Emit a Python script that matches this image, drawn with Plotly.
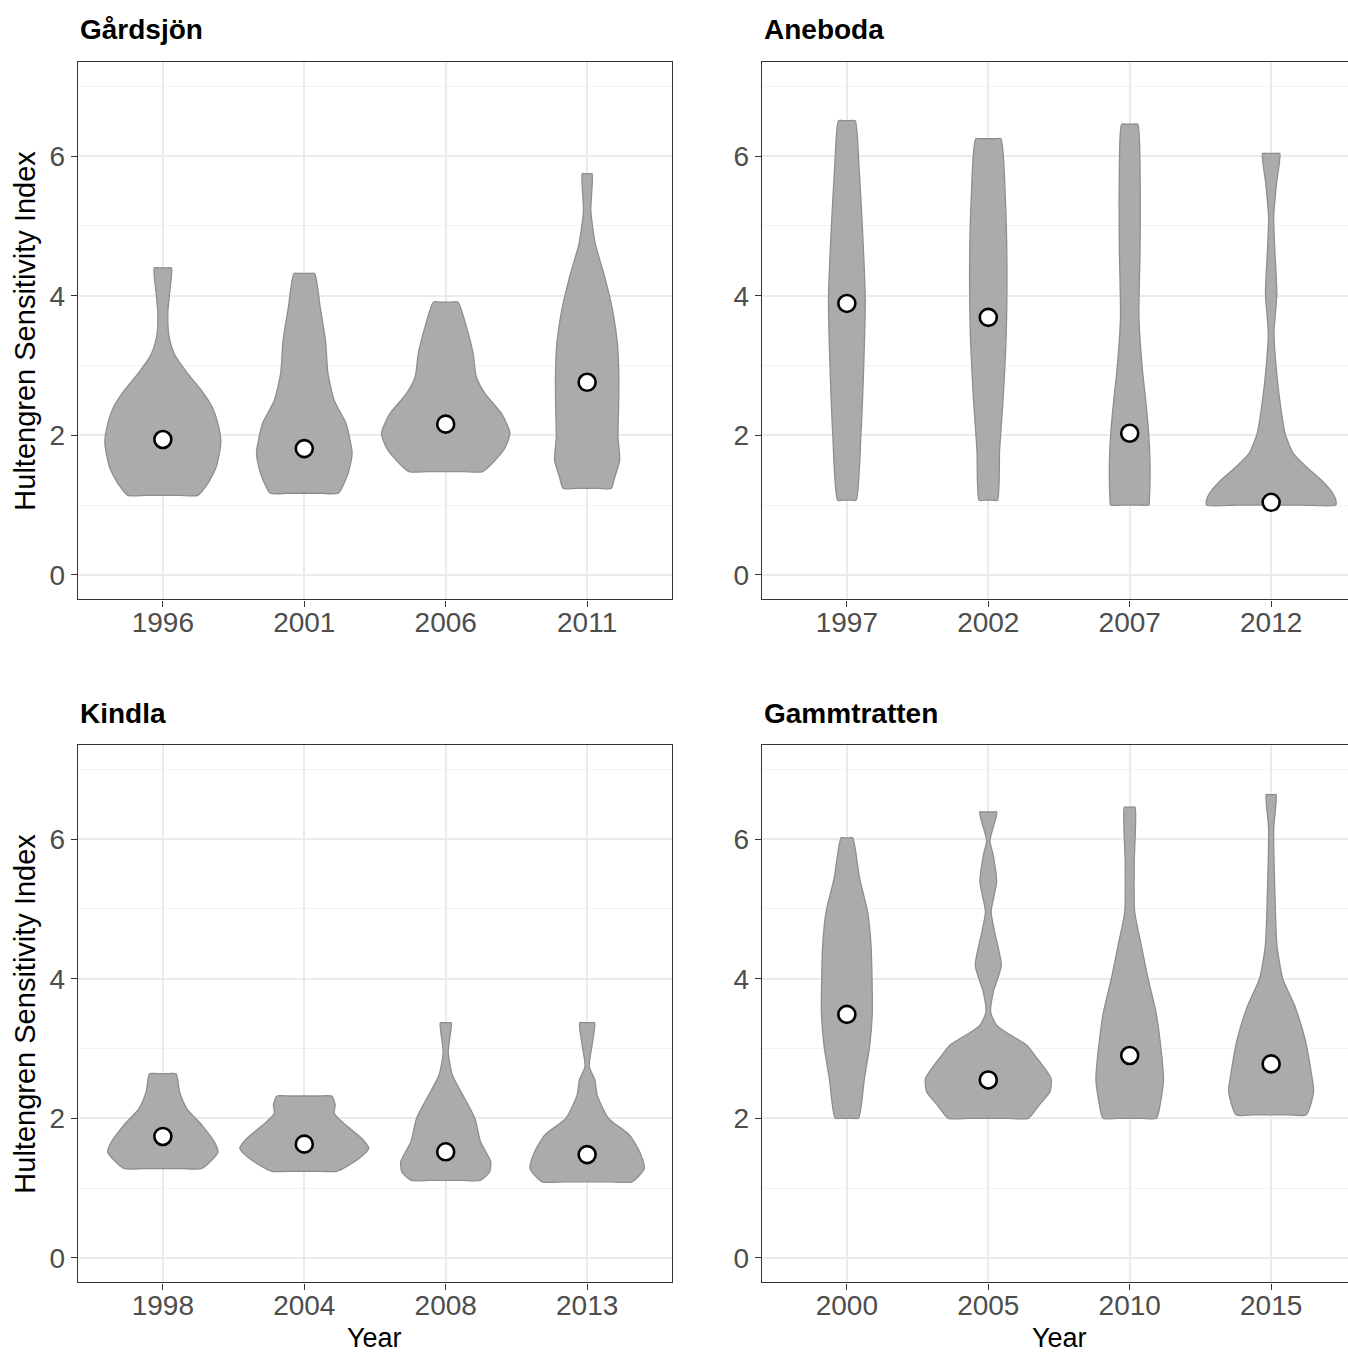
import plotly.graph_objects as go

# ---------------- data ----------------
site_names = ["Gårdsjön", "Aneboda", "Kindla", "Gammtratten"]

gardsjon_years = ["1996", "2001", "2006", "2011"]
aneboda_years = ["1997", "2002", "2007", "2012"]
kindla_years = ["1998", "2004", "2008", "2013"]
gammtratten_years = ["2000", "2005", "2010", "2015"]

# mean Hultengren Sensitivity Index per year
gardsjon_means = [1.94, 1.81, 2.16, 2.76]
aneboda_means = [3.89, 3.69, 2.03, 1.04]
kindla_means = [1.74, 1.63, 1.52, 1.48]
gammtratten_means = [3.49, 2.55, 2.90, 2.78]

# violin density profiles: index values (y) and half-widths (in category units)
g1996_y = [1.14, 1.31, 1.55, 1.89, 2.12, 2.40, 2.65, 2.90, 3.15, 3.40, 3.75, 4.08, 4.40]
g1996_w = [0.247, 0.318, 0.378, 0.41, 0.395, 0.35, 0.27, 0.17, 0.085, 0.045, 0.035, 0.05, 0.061]
g2001_y = [1.17, 1.46, 1.74, 2.17, 2.50, 2.89, 3.36, 3.84, 4.32]
g2001_w = [0.24, 0.31, 0.338, 0.295, 0.212, 0.167, 0.15, 0.112, 0.073]
g2006_y = [1.48, 1.79, 2.03, 2.31, 2.60, 2.84, 3.17, 3.55, 3.91]
g2006_w = [0.26, 0.41, 0.454, 0.395, 0.277, 0.216, 0.194, 0.147, 0.086]
g2011_y = [1.24, 1.40, 1.64, 1.98, 2.36, 2.84, 3.32, 3.79, 4.27, 4.75, 5.22, 5.75]
g2011_w = [0.17, 0.195, 0.23, 0.218, 0.222, 0.224, 0.214, 0.18, 0.124, 0.057, 0.026, 0.035]

a1997_y = [1.07, 2.03, 2.98, 3.94, 4.89, 5.85, 6.51]
a1997_w = [0.065, 0.10, 0.119, 0.13, 0.112, 0.086, 0.059]
a2002_y = [1.07, 1.79, 2.50, 3.46, 4.41, 5.37, 6.25]
a2002_w = [0.065, 0.08, 0.104, 0.127, 0.132, 0.121, 0.088]
a2007_y = [1.0, 1.07, 1.55, 2.03, 2.50, 2.98, 3.70, 4.65, 5.61, 6.46]
a2007_w = [0.136, 0.139, 0.144, 0.134, 0.113, 0.088, 0.065, 0.073, 0.074, 0.057]
a2012_y = [1.0, 1.07, 1.17, 1.36, 1.55, 1.74, 2.03, 2.50, 2.98, 3.46, 4.03, 4.65, 5.13, 5.61, 6.04]
a2012_w = [0.457, 0.457, 0.436, 0.354, 0.248, 0.156, 0.098, 0.061, 0.035, 0.02, 0.04, 0.026, 0.018, 0.038, 0.061]

k1998_y = [1.28, 1.38, 1.52, 1.66, 1.90, 2.14, 2.38, 2.64]
k1998_w = [0.273, 0.336, 0.39, 0.365, 0.277, 0.169, 0.118, 0.094]
k2004_y = [1.24, 1.42, 1.57, 1.71, 1.90, 2.07, 2.19, 2.32]
k2004_w = [0.23, 0.385, 0.456, 0.407, 0.295, 0.212, 0.218, 0.194]
k2008_y = [1.11, 1.23, 1.38, 1.66, 2.00, 2.28, 2.62, 2.95, 3.37]
k2008_w = [0.242, 0.31, 0.318, 0.247, 0.206, 0.135, 0.047, 0.018, 0.039]
k2013_y = [1.09, 1.28, 1.52, 1.76, 2.00, 2.33, 2.55, 2.74, 3.05, 3.37]
k2013_w = [0.318, 0.404, 0.371, 0.30, 0.151, 0.071, 0.055, 0.015, 0.035, 0.053]

m2000_y = [2.00, 2.57, 3.05, 3.52, 4.00, 4.48, 4.96, 5.43, 6.02]
m2000_w = [0.082, 0.124, 0.162, 0.18, 0.178, 0.171, 0.147, 0.091, 0.041]
m2005_y = [2.00, 2.19, 2.38, 2.57, 2.90, 3.05, 3.24, 3.33, 3.52, 3.81, 4.19, 4.67, 4.96, 5.39, 5.77, 5.98, 6.39]
m2005_w = [0.283, 0.36, 0.436, 0.444, 0.33, 0.27, 0.12, 0.06, 0.017, 0.035, 0.092, 0.045, 0.02, 0.059, 0.035, 0.012, 0.061]
m2010_y = [2.00, 2.28, 2.57, 3.05, 3.52, 4.00, 4.48, 4.96, 5.67, 6.46]
m2010_w = [0.189, 0.222, 0.239, 0.218, 0.186, 0.13, 0.082, 0.035, 0.032, 0.038]
m2015_y = [2.05, 2.38, 2.66, 3.14, 3.62, 4.00, 4.48, 5.19, 6.15, 6.64]
m2015_w = [0.248, 0.30, 0.283, 0.239, 0.165, 0.082, 0.041, 0.027, 0.018, 0.035]

y_tick_vals = [0, 2, 4, 6]
y_minor_vals = [1, 3, 5, 7]

# ---------------- figure ----------------
W, H = 1348, 1354
FONT = "Liberation Sans, Arial, Helvetica, sans-serif"
FILL = "#ABABAB"
EDGE = "#8E8E8E"

panels = [
    (site_names[0], gardsjon_years, gardsjon_means,
     [(g1996_y, g1996_w), (g2001_y, g2001_w), (g2006_y, g2006_w), (g2011_y, g2011_w)]),
    (site_names[1], aneboda_years, aneboda_means,
     [(a1997_y, a1997_w), (a2002_y, a2002_w), (a2007_y, a2007_w), (a2012_y, a2012_w)]),
    (site_names[2], kindla_years, kindla_means,
     [(k1998_y, k1998_w), (k2004_y, k2004_w), (k2008_y, k2008_w), (k2013_y, k2013_w)]),
    (site_names[3], gammtratten_years, gammtratten_means,
     [(m2000_y, m2000_w), (m2005_y, m2005_w), (m2010_y, m2010_w), (m2015_y, m2015_w)]),
]

# panel pixel boxes (left, right, top, bottom)
boxes = [(78, 672, 62, 599.3), (762, 1356, 62, 599.3),
         (78, 672, 745, 1282.3), (762, 1356, 745, 1282.3)]

fig = go.Figure()
layout = dict(
    width=W, height=H, autosize=False,
    margin=dict(l=0, r=0, t=0, b=0),
    paper_bgcolor="white", plot_bgcolor="white",
    showlegend=False, font=dict(family=FONT, color="#4D4D4D"),
)
annotations = []

for i, (name, years, means, profiles) in enumerate(panels):
    n = i + 1
    xa = "x" if n == 1 else f"x{n}"
    ya = "y" if n == 1 else f"y{n}"
    l, r, t, b = boxes[i]
    r_vis = min(r, W)
    px_per_unit = (r - l) / 4.2
    x_max = 0.4 + (r_vis - l) / px_per_unit
    right_col = i % 2 == 1

    for k, (py, pw) in enumerate(profiles):
        c = k + 1
        y0, yn = py[0], py[-1]
        w0, wn = pw[0], pw[-1]
        # outline: bottom centre -> right side up -> flat top -> left side down -> bottom centre
        xs = ([c, c + 0.5 * w0] + [c + w for w in pw] + [c + 0.5 * wn, c, c - 0.5 * wn]
              + [c - w for w in reversed(pw)] + [c - 0.5 * w0, c])
        ys = ([y0, y0] + list(py) + [yn, yn, yn]
              + list(reversed(py)) + [y0, y0])
        fig.add_trace(go.Scatter(
            x=xs, y=ys, xaxis=xa, yaxis=ya, mode="lines",
            line=dict(color=EDGE, width=1.3, shape="spline", smoothing=0.6),
            fill="toself", fillcolor=FILL, hoverinfo="skip"))

    fig.add_trace(go.Scatter(
        x=[1, 2, 3, 4], y=means, xaxis=xa, yaxis=ya, mode="markers",
        marker=dict(size=17, color="white", line=dict(color="black", width=2.6)),
        text=years, hovertemplate="%{text}: %{y:.2f}<extra></extra>"))

    layout["xaxis" if n == 1 else f"xaxis{n}"] = dict(
        domain=[l / W, r_vis / W], range=[0.4, x_max], anchor=ya,
        tickvals=[1, 2, 3, 4], ticktext=years,
        showgrid=True, gridcolor="#EBEBEB", gridwidth=1.6,
        showline=True, linecolor="#333333", linewidth=1.4, mirror=True,
        ticks="outside", ticklen=6, tickwidth=1.4, tickcolor="#333333",
        ticklabelstandoff=-8,
        tickfont=dict(size=28, color="#4D4D4D", family=FONT),
        zeroline=False, fixedrange=True)
    layout["yaxis" if n == 1 else f"yaxis{n}"] = dict(
        domain=[1 - b / H, 1 - t / H], range=[-0.35, 7.35], anchor=xa,
        tickvals=y_tick_vals, ticktext=[str(v) for v in y_tick_vals],
        showgrid=True, gridcolor="#EBEBEB", gridwidth=1.6,
        minor=dict(tickvals=y_minor_vals, showgrid=True, gridcolor="#F2F2F2", gridwidth=1.0),
        showline=True, linecolor="#333333", linewidth=1.4, mirror=not right_col,
        ticks="outside", ticklen=6, tickwidth=1.4, tickcolor="#333333",
        tickfont=dict(size=28, color="#4D4D4D", family=FONT),
        zeroline=False, fixedrange=True)

    annotations.append(dict(
        text=f"<b>{name}</b>", xref="paper", yref="paper",
        x=l / W, y=1 - (t - 32) / H, xanchor="left", yanchor="middle",
        showarrow=False, font=dict(size=28, color="black", family=FONT)))

    if not right_col:
        annotations.append(dict(
            text="Hultengren Sensitivity Index", xref="paper", yref="paper",
            x=25 / W, y=1 - ((t + b) / 2) / H, xanchor="center", yanchor="middle",
            textangle=-90, showarrow=False,
            font=dict(size=29, color="black", family=FONT)))
    if i >= 2:
        annotations.append(dict(
            text="Year", xref="paper", yref="paper",
            x=((l + r) / 2) / W, y=1 - 1338 / H, xanchor="center", yanchor="middle",
            showarrow=False, font=dict(size=27, color="black", family=FONT)))

layout["annotations"] = annotations
fig.update_layout(**layout)

fig.write_html("out.html", config={"displayModeBar": False},
               post_script="document.body.style.margin='0';")
